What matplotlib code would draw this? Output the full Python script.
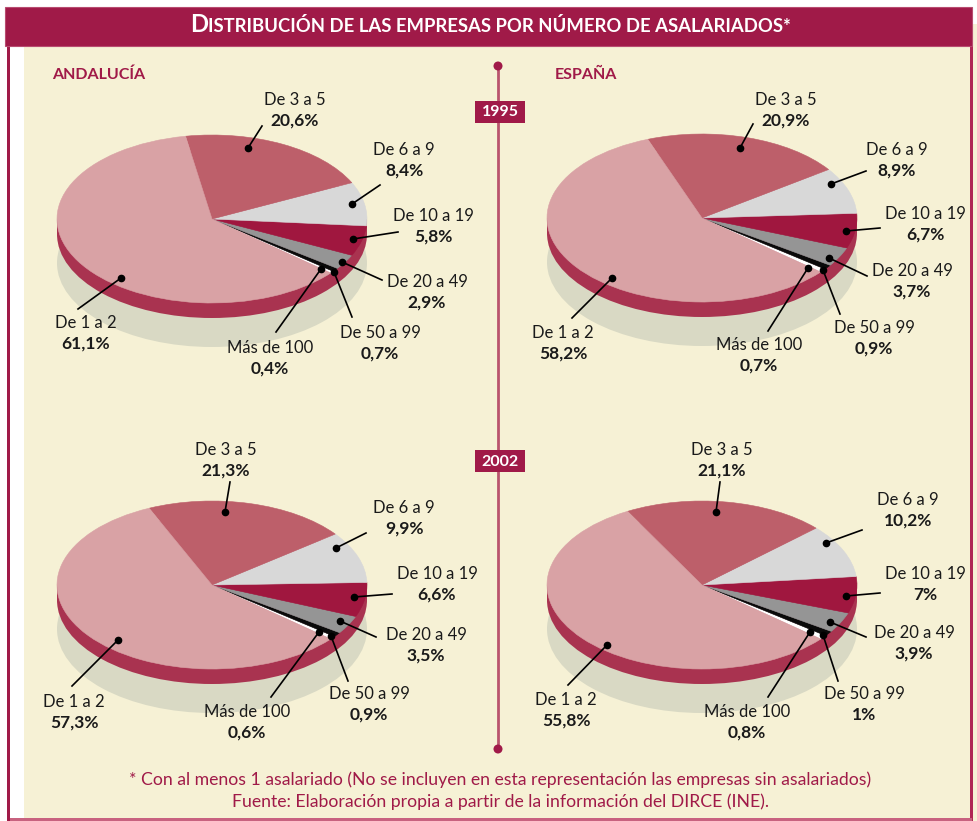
import matplotlib

matplotlib.use("Agg")
import matplotlib.pyplot as plt
from matplotlib.patches import Ellipse, Rectangle, Circle

plt.rcParams["font.family"] = ["Lato", "DejaVu Sans"]

# ---------- data ----------
CATEGORIES = ["De 1 a 2", "De 3 a 5", "De 6 a 9", "De 10 a 19",
              "De 20 a 49", "De 50 a 99", "Más de 100"]
ANDALUCIA_1995 = [61.1, 20.6, 8.4, 5.8, 2.9, 0.7, 0.4]
ESPANA_1995 = [58.2, 20.9, 8.9, 6.7, 3.7, 0.9, 0.7]
ANDALUCIA_2002 = [57.3, 21.3, 9.9, 6.6, 3.5, 0.9, 0.6]
ESPANA_2002 = [55.8, 21.1, 10.2, 7, 3.9, 1, 0.8]
YEARS = ["1995", "2002"]
REGIONS = ["ANDALUCÍA", "ESPAÑA"]

TITLE_FIRST = "D"
TITLE_REST = "ISTRIBUCIÓN DE LAS EMPRESAS POR NÚMERO DE ASALARIADOS*"
NOTE = "* Con al menos 1 asalariado (No se incluyen en esta representación las empresas sin asalariados)"
SOURCE = "Fuente: Elaboración propia a partir de la información del DIRCE (INE)."

# ---------- style ----------
W, H, DPI = 977, 821, 100
WINE = "#a01a48"
BEIGE = "#f6f1d5"
RIM = "#a93350"
SHADOW_C = "#d9d9c4"
SLICE_COLORS = ["#d9a2a5", "#bd5f6a", "#d8d8d8", "#a0173f",
                "#959595", "#0a0a0a", "#ffffff"]
TXT = "#1a1a1a"
RX, RY = 155, 84        # ellipse half axes (px)
DEPTH, SHADOW = 15, 44  # rim depth and shadow offset (px)

# pie centres (px) and label layout: (text x, text y, dot x, dot y, line end x, line end y)
PANELS = [
    (ANDALUCIA_1995, (212, 219), [
        (86, 323, 121, 278, 78, 309),
        (295, 100, 248, 148, 262, 126),
        (404, 150, 352, 204, 380, 185),
        (433, 216, 353, 239, 398, 232),
        (427, 282, 342, 262, 382, 280),
        (380, 333, 334, 272, 352, 317),
        (270, 348, 321, 269, 276, 332),
    ]),
    (ESPANA_1995, (702, 218), [
        (563, 333, 612, 278, 572, 318),
        (786, 100, 740, 148, 753, 124),
        (897, 150, 831, 184, 866, 171),
        (925, 214, 846, 231, 880, 228),
        (912, 271, 829, 258, 867, 276),
        (874, 328, 823, 270, 840, 314),
        (759, 345, 808, 268, 768, 331),
    ]),
    (ANDALUCIA_2002, (212, 585), [
        (74, 702, 118, 640, 72, 686),
        (226, 450, 225, 512, 230, 482),
        (404, 508, 336, 548, 366, 533),
        (437, 574, 354, 597, 392, 594),
        (426, 635, 340, 621, 376, 637),
        (369, 694, 331, 636, 348, 681),
        (247, 712, 319, 632, 271, 697),
    ]),
    (ESPANA_2002, (702, 585), [
        (566, 700, 607, 645, 568, 685),
        (722, 450, 716, 512, 720, 482),
        (908, 500, 826, 543, 862, 530),
        (925, 574, 846, 596, 880, 593),
        (914, 633, 830, 622, 866, 637),
        (864, 694, 823, 635, 838, 681),
        (747, 712, 810, 632, 768, 697),
    ]),
]


def pct(v):
    return f"{v:g}".replace(".", ",") + "%"


fig = plt.figure(figsize=(W / DPI, H / DPI), dpi=DPI)
fig.patch.set_facecolor("white")

# ---------- background / frame ----------
bg = fig.add_axes([0, 0, 1, 1], zorder=0)
bg.set_xlim(0, W)
bg.set_ylim(H, 0)
bg.axis("off")
bg.add_patch(Rectangle((973, 24), 10, H, fc=BEIGE, ec="none"))
bg.add_patch(Rectangle((24, 46), 946, 773, fc=BEIGE, ec="none"))
bg.add_patch(Rectangle((7, 46), 3, 775, fc=WINE, ec="none"))
bg.add_patch(Rectangle((970, 46), 2.5, 775, fc="#b02655", ec="none"))
bg.add_patch(Rectangle((10, 818.5), 962, 2.5, fc="#c8627f", ec="none"))
bg.add_patch(Rectangle((5, 7), 967, 39, fc=WINE, ec="#b84c70", lw=0.8))

# centre line, dots and year tags
bg.plot([498, 498], [66, 749], color="#b9546d", lw=2, solid_capstyle="butt")
for yy in (66, 749):
    bg.add_patch(Circle((498, yy), 4.5, fc=WINE, ec="none", zorder=3))
for year, yy in zip(YEARS, (112, 461)):
    bg.add_patch(Rectangle((475, yy - 11), 50, 22, fc=WINE, ec="none", zorder=3))
    bg.text(500, yy + 0.5, year, color="white", fontsize=11.5, fontweight="bold",
            ha="center", va="center", zorder=4)

# title in small caps
tD = bg.text(190, 32, TITLE_FIRST, color="white", fontsize=17.2, fontweight="bold",
             ha="left", va="baseline")
bg.annotate(TITLE_REST, xy=(1, 32), xycoords=(tD, "data"), color="white",
            fontsize=13.3, fontweight="bold", ha="left", va="baseline")

for name, xx in zip(REGIONS, (52, 555)):
    bg.text(xx, 75, name, color=WINE, fontsize=11.5, fontweight="bold",
            ha="left", va="center")

bg.text(500, 780, NOTE, color=WINE, fontsize=12.7, ha="center", va="center")
bg.text(500, 802, SOURCE, color=WINE, fontsize=12.7, ha="center", va="center")


# ---------- pies ----------
def draw_pie(values, cx, cy):
    m = 0.08
    yb = 1 + SHADOW / RY + m
    left, right = cx - RX * (1 + m), cx + RX * (1 + m)
    top, bottom = cy - RY * (1 + m), cy + RY * yb
    ax = fig.add_axes([left / W, 1 - bottom / H, (right - left) / W, (bottom - top) / H],
                      zorder=1)
    ax.add_patch(Ellipse((0, -SHADOW / RY), 2, 2, fc=SHADOW_C, ec="none", zorder=0.2))
    d = DEPTH / RY
    ax.add_patch(Ellipse((0, -d), 2, 2, fc=RIM, ec="none", zorder=0.5))
    ax.add_patch(Rectangle((-1, -d), 2, d, fc=RIM, ec="none", zorder=0.5))
    wedges, _ = ax.pie(values[::-1], colors=SLICE_COLORS[::-1], startangle=320,
                       counterclock=True, radius=1, wedgeprops=dict(linewidth=0.4))
    for w in wedges:
        w.set_edgecolor(w.get_facecolor())
    ax.set_aspect("auto")
    ax.set_xlim(-(1 + m), 1 + m)
    ax.set_ylim(-yb, 1 + m)
    ax.axis("off")
    ax.patch.set_visible(False)


for values, (cx, cy), _ in PANELS:
    draw_pie(values, cx, cy)

# ---------- labels ----------
top = fig.add_axes([0, 0, 1, 1], zorder=3)
top.set_xlim(0, W)
top.set_ylim(H, 0)
top.axis("off")
top.patch.set_visible(False)

for values, _, layout in PANELS:
    for cat, v, (tx, ty, dx, dy, ex, ey) in zip(CATEGORIES, values, layout):
        top.plot([dx, ex], [dy, ey], color="black", lw=1.2)
        top.plot(dx, dy, "o", color="black", ms=4.5)
        top.text(tx, ty, cat, color=TXT, fontsize=12, ha="center", va="center")
        top.text(tx, ty + 21, pct(v), color=TXT, fontsize=12.5, fontweight="bold",
                 ha="center", va="center")

fig.savefig("out.png", dpi=DPI)
